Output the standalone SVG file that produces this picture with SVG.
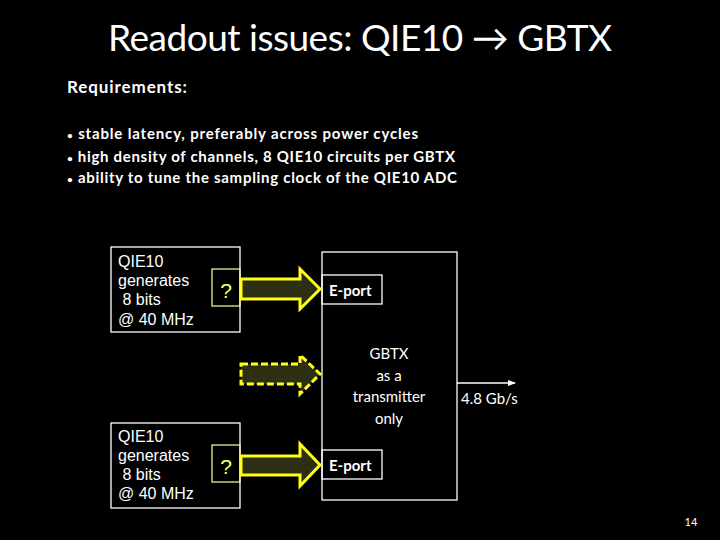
<svg xmlns="http://www.w3.org/2000/svg" width="720" height="540" viewBox="0 0 720 540">
<defs>
<style>
.box{fill:none;stroke:#fff;stroke-width:1.3}
.qtxt{font-family:"Liberation Sans",Arial,sans-serif;font-size:16px;fill:#fff}
.cal{font-family:Lato,"Open Sans",sans-serif;fill:#fff}
.q{font-family:"Liberation Sans",Arial,sans-serif;font-size:21px;fill:#ffff66}
.b{font-size:10px}
.arr{fill:#2c2f12;stroke:#ffff1a;stroke-width:3;stroke-linejoin:miter}
.dash{fill:#2c2f12;stroke:#ffff1a;stroke-width:3;stroke-dasharray:7,3}
</style>
<marker id="ah" markerWidth="8" markerHeight="6" refX="7" refY="3" orient="auto" markerUnits="userSpaceOnUse">
<path d="M0,0 L8,3 L0,6 Z" fill="#fff"/>
</marker>
</defs>
<rect width="720" height="540" fill="#000"/>
<text class="cal" x="360" y="51" font-size="37" text-anchor="middle" textLength="504">Readout issues: QIE10 → GBTX</text>
<text class="cal" x="67" y="93" font-size="17" font-weight="bold" textLength="120">Requirements:</text>
<g class="cal" font-size="15" font-weight="bold">
<text x="67" y="139" textLength="351"><tspan class="b">•</tspan> stable latency, preferably across power cycles</text>
<text x="67" y="162" textLength="388"><tspan class="b">•</tspan> high density of channels, 8 QIE10 circuits per GBTX</text>
<text x="67" y="183" textLength="390"><tspan class="b">•</tspan> ability to tune the sampling clock of the QIE10 ADC</text>
</g>
<g id="qie-top">
<rect class="box" x="111" y="247" width="129" height="85"/>
<text class="qtxt" x="118" y="267">QIE10</text>
<text class="qtxt" x="118" y="286">generates</text>
<text class="qtxt" x="118" y="305" xml:space="preserve"> 8 bits</text>
<text class="qtxt" x="118" y="325">@ 40 MHz</text>
<rect x="212" y="269" width="28" height="37" fill="none" stroke="#ffff99" stroke-width="1.2"/>
<text class="q" x="226" y="298" text-anchor="middle">?</text>
</g>
<g id="qie-bottom">
<rect class="box" x="111" y="423" width="129" height="85"/>
<text class="qtxt" x="118" y="442">QIE10</text>
<text class="qtxt" x="118" y="461">generates</text>
<text class="qtxt" x="118" y="480" xml:space="preserve"> 8 bits</text>
<text class="qtxt" x="118" y="499">@ 40 MHz</text>
<rect x="212" y="445" width="28" height="37" fill="none" stroke="#ffff99" stroke-width="1.2"/>
<text class="q" x="226" y="474" text-anchor="middle">?</text>
</g>
<g id="gbtx">
<rect class="box" x="322" y="252" width="135" height="248"/>
<g class="cal" font-size="15" text-anchor="middle">
<text x="389" y="359">GBTX</text>
<text x="389" y="381">as a</text>
<text x="389" y="402">transmitter</text>
<text x="389" y="424">only</text>
</g>
</g>
<g id="eport-top">
<rect class="box" x="322" y="275" width="60" height="29"/>
<text class="cal" x="329" y="296" font-size="15" font-weight="bold">E-port</text>
</g>
<g id="eport-bottom">
<rect class="box" x="322" y="450" width="60" height="29"/>
<text class="cal" x="329" y="471" font-size="15" font-weight="bold">E-port</text>
</g>
<g id="connectors">
<path class="arr" d="M241,279 H300 V269 L320,289 L300,309 V299 H241 Z"/>
<path class="arr" d="M241,456 H300 V444 L320,465 L300,486 V475 H241 Z"/>
<path class="dash" d="M241,364 H300 V355 L320,374 L300,394 V384 H241 Z"/>
<line x1="457" y1="383" x2="515" y2="383" stroke="#fff" stroke-width="1.3" marker-end="url(#ah)"/>
</g>
<text class="cal" x="461" y="404" font-size="15">4.8 Gb/s</text>
<text class="cal" x="691" y="526" font-size="11" text-anchor="middle">14</text>
</svg>
